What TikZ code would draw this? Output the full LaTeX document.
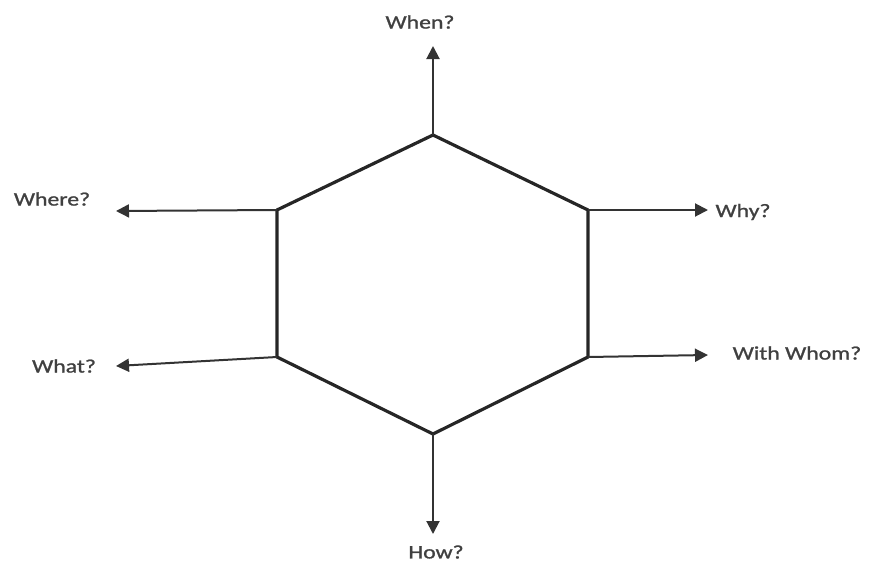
\documentclass[tikz,border=0pt]{standalone}
\usepackage{fontspec}
\setmainfont{Carlito}[FakeStretch=1.25,FakeBold=1.2]
\usetikzlibrary{arrows.meta}
\tikzset{
  qarrow/.style={draw=black!80, line width=2pt, -{Triangle[length=13pt,width=13pt]}},
  qlabel/.style={text=black!75, font=\fontsize{19}{22}\selectfont, inner sep=0pt}
}
\begin{document}
\begin{tikzpicture}[x=1pt,y=-1pt]
    \useasboundingbox (0,0) rectangle (870,565);

    % hexagon corners
    \coordinate (t) at (433,135);
    \coordinate (ur) at (588,210);
    \coordinate (lr) at (588,357);
    \coordinate (b) at (433,434);
    \coordinate (ll) at (277,357);
    \coordinate (ul) at (277,210);
    \draw[black!85, line width=3.2pt, line join=round] (t) -- (ur) -- (lr) -- (b) -- (ll) -- (ul) -- cycle;

    % arrow ends
    \coordinate (whenEnd) at (433,46);
    \coordinate (whereEnd) at (116,211);
    \coordinate (whyEnd) at (708,210);
    \coordinate (whatEnd) at (116,366);
    \coordinate (whomEnd) at (708,355);
    \coordinate (howEnd) at (433,534);

    \draw[qarrow] (t) -- (whenEnd);
    \draw[qarrow] (ul) -- (whereEnd);
    \draw[qarrow] (ur) -- (whyEnd);
    \draw[qarrow] (ll) -- (whatEnd);
    \draw[qarrow] (lr) -- (whomEnd);
    \draw[qarrow] (b) -- (howEnd);

    % labels
    \node[qlabel] (when) at (420,22) {When?};
    \node[qlabel] (where) at (52,199) {Where?};
    \node[qlabel] (why) at (743,212) {Why?};
    \node[qlabel] (what) at (64,366) {What?};
    \node[qlabel] (whom) at (797,353) {With Whom?};
    \node[qlabel] (how) at (436,552) {How?};
\end{tikzpicture}
\end{document}
